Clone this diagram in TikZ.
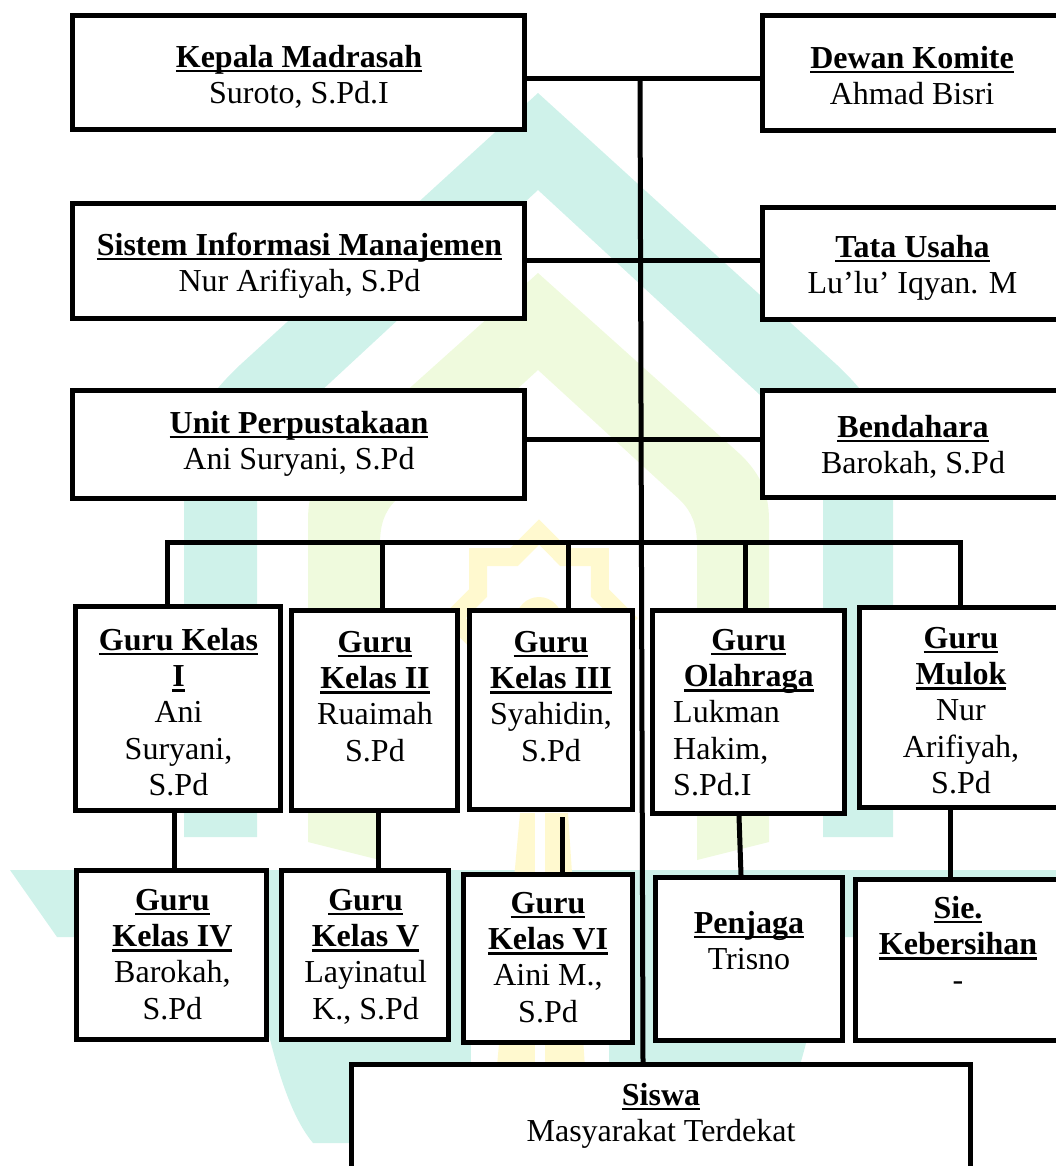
\documentclass[tikz,border=0pt]{standalone}
\usepackage{fontspec}
\setmainfont{Liberation Serif}
\usetikzlibrary{calc}
\definecolor{wmteal}{HTML}{CFF2EA}
\definecolor{wmgreen}{HTML}{EFFADD}
\definecolor{wmyellow}{HTML}{FFF9CF}
\newsavebox\ulbox
\newcommand\ulb[1]{\sbox\ulbox{\bfseries #1}\rlap{\rule[-5pt]{\wd\ulbox}{2.4pt}}\usebox\ulbox}
\newcommand\fh{\rule{0pt}{23pt}}
\begin{document}
\begin{tikzpicture}[x=1pt,y=-1pt,
  box/.style={draw, line width=5pt, fill=white, inner sep=0pt, rectangle},
  txt/.style={inner sep=0pt, align=center, anchor=north, font=\fontsize{32}{36.3}\selectfont},
  conn/.style={line width=5pt, line join=miter}]
\useasboundingbox (0,0) rectangle (1056,1166);
\clip (0,0) rectangle (1056,1166);
% ---- watermark ----
\fill[wmteal] (184,837) -- (184,480) .. controls (184,430) and (205,398) .. (240,365) -- (538,93) -- (837,365) .. controls (872,398) and (893,430) .. (893,480) -- (893,837) -- (823,837) -- (823,490) .. controls (823,455) and (808,432) .. (785,418) -- (538,190) -- (292,418) .. controls (269,432) and (257,455) .. (257,490) -- (257,837) -- cycle;
\fill[wmgreen] (308,842) -- (308,520) .. controls (308,490) and (318,472) .. (335,455) -- (538,273) -- (741,455) .. controls (758,472) and (769,490) .. (769,520) -- (769,842) -- (697,860) -- (697,545) .. controls (697,525) and (692,512) .. (680,500) -- (538,370) -- (396,500) .. controls (384,512) and (380,525) .. (380,545) -- (380,860) -- cycle;
\fill[wmteal] (10,870) -- (1067,870) -- (1020,937) -- (830,937) .. controls (815,1000) and (800,1100) .. (764,1143) -- (313,1143) .. controls (277,1100) and (262,1000) .. (247,937) -- (57,937) -- cycle;
\fill[white] (471,900) rectangle (609,1143);
\fill[wmyellow] (520,813) -- (568,813) -- (590,1143) -- (490,1143) -- cycle;
\fill[white] (535,813) rectangle (545,1143);
\begin{scope}[shift={(539,618)}]
\draw[wmyellow, line width=18pt, line join=miter] (90:86) -- (112.5:65.8) -- (135:86) -- (157.5:65.8) -- (180:86) -- (202.5:65.8) -- (225:86) -- (247.5:65.8) -- (270:86) -- (292.5:65.8) -- (315:86) -- (337.5:65.8) -- (0:86) -- (22.5:65.8) -- (45:86) -- (67.5:65.8) -- cycle;
\fill[wmyellow] (0,2) circle[radius=23pt];
\end{scope}
% ---- boxes ----
\node[box, minimum width=452pt, minimum height=114pt] (kepala) at (298.5,72.5) {};
\node[box, minimum width=299pt, minimum height=115pt] (dewan) at (912,73) {};
\node[box, minimum width=452pt, minimum height=115pt] (sistem) at (298.5,261) {};
\node[box, minimum width=299pt, minimum height=112pt] (tata) at (912,263.5) {};
\node[box, minimum width=452pt, minimum height=108pt] (unit) at (298.5,444.5) {};
\node[box, minimum width=299pt, minimum height=107pt] (bendahara) at (912,444) {};
\node[box, minimum width=205pt, minimum height=204pt] (k1) at (178,708.5) {};
\node[box, minimum width=166pt, minimum height=200pt] (k2) at (374.5,710.5) {};
\node[box, minimum width=163pt, minimum height=199pt] (k3) at (551,710) {};
\node[box, minimum width=192pt, minimum height=203pt] (olah) at (748.5,712) {};
\node[box, minimum width=203pt, minimum height=200pt] (mulok) at (961,707.5) {};
\node[box, minimum width=190pt, minimum height=169pt] (k4) at (171.5,955) {};
\node[box, minimum width=167pt, minimum height=169pt] (k5) at (365,955) {};
\node[box, minimum width=169pt, minimum height=168pt] (k6) at (548,958.5) {};
\node[box, minimum width=187pt, minimum height=163pt] (penjaga) at (749,959) {};
\node[box, minimum width=205pt, minimum height=161pt] (sie) at (958,960) {};
\node[box, minimum width=619pt, minimum height=135pt] (siswa) at (661,1132) {};
% ---- connectors ----
\coordinate (j1) at (640,79);
\coordinate (j2) at (640,260);
\coordinate (j3) at (640,439);
\coordinate (tb) at (643,0);
\draw[conn] (kepala.east |- j1) -- (dewan.west |- j1);
\draw[conn] (sistem.east |- j2) -- (tata.west |- j2);
\draw[conn] (unit.east |- j3) -- (bendahara.west |- j3);
\draw[conn] (j1) -- (tb |- siswa.north);
\coordinate (b1) at (167,542);
\coordinate (b2) at (382,542);
\coordinate (b3) at (568,542);
\coordinate (b4) at (745,542);
\coordinate (b5) at (960,542);
\draw[conn] (b1 |- k1.north) -- (b1) -- (b5) -- (b5 |- mulok.north);
\draw[conn] (b2) -- (b2 |- k2.north);
\draw[conn] (b3) -- (b3 |- k3.north);
\draw[conn] (b4) -- (b4 |- olah.north);
\coordinate (v1) at (174,0);
\coordinate (v2) at (378,0);
\coordinate (v3) at (562,0);
\coordinate (v4a) at (739,0);
\coordinate (v4b) at (741,0);
\coordinate (v5) at (950,0);
\draw[conn] (v1 |- k1.south) -- (v1 |- k4.north);
\draw[conn] (v2 |- k2.south) -- (v2 |- k5.north);
\draw[conn] ($(v3 |- k3.south)+(0,5)$) -- (v3 |- k6.north);
\draw[conn] (v4a |- olah.south) -- (v4b |- penjaga.north);
\draw[conn] (v5 |- mulok.south) -- (v5 |- sie.north);
% ---- texts ----
\node[txt] (kepalat) at (299,44) {\fh\ulb{Kepala Madrasah}\\Suroto, S.Pd.I};
\node[txt] (dewant) at (912,45) {\fh\ulb{Dewan Komite}\\Ahmad Bisri};
\node[txt] (sistemt) at (299.5,232) {\fh\ulb{Sistem Informasi Manajemen}\\Nur Arifiyah, S.Pd};
\node[txt] (tatat) at (912.5,234) {\fh\ulb{Tata Usaha}\\Lu’lu’ Iqyan. M};
\node[txt] (unitt) at (299,410) {\fh\ulb{Unit Perpustakaan}\\Ani Suryani, S.Pd};
\node[txt] (bendaharat) at (913,414) {\fh\ulb{Bendahara}\\Barokah, S.Pd};
\node[txt] (k1t) at (178.5,627) {\fh\ulb{Guru Kelas}\\\ulb{I}\\Ani\\Suryani,\\S.Pd};
\node[txt] (k2t) at (375,629) {\fh\ulb{Guru}\\\ulb{Kelas II}\\Ruaimah\\S.Pd};
\node[txt] (k3t) at (551,629) {\fh\ulb{Guru}\\\ulb{Kelas III}\\Syahidin,\\S.Pd};
\node[txt] (olaht) at (748.7,627) {\fh\ulb{Guru}\\\ulb{Olahraga}\\\makebox[151pt][l]{Lukman}\\\makebox[151pt][l]{Hakim,}\\\makebox[151pt][l]{S.Pd.I}};
\node[txt] (mulokt) at (961,625) {\fh\ulb{Guru}\\\ulb{Mulok}\\Nur\\Arifiyah,\\S.Pd};
\node[txt] (k4t) at (172.4,887) {\fh\ulb{Guru}\\\ulb{Kelas IV}\\Barokah,\\S.Pd};
\node[txt] (k5t) at (365.6,887) {\fh\ulb{Guru}\\\ulb{Kelas V}\\Layinatul\\K., S.Pd};
\node[txt] (k6t) at (548,890) {\fh\ulb{Guru}\\\ulb{Kelas VI}\\Aini M.,\\S.Pd};
\node[txt] (penjagat) at (749,910) {\fh\ulb{Penjaga}\\Trisno};
\node[txt] (siet) at (958,895) {\fh\ulb{Sie.}\\\ulb{Kebersihan}\\-};
\node[txt] (siswat) at (661,1082) {\fh\ulb{Siswa}\\Masyarakat Terdekat};
\end{tikzpicture}
\end{document}
